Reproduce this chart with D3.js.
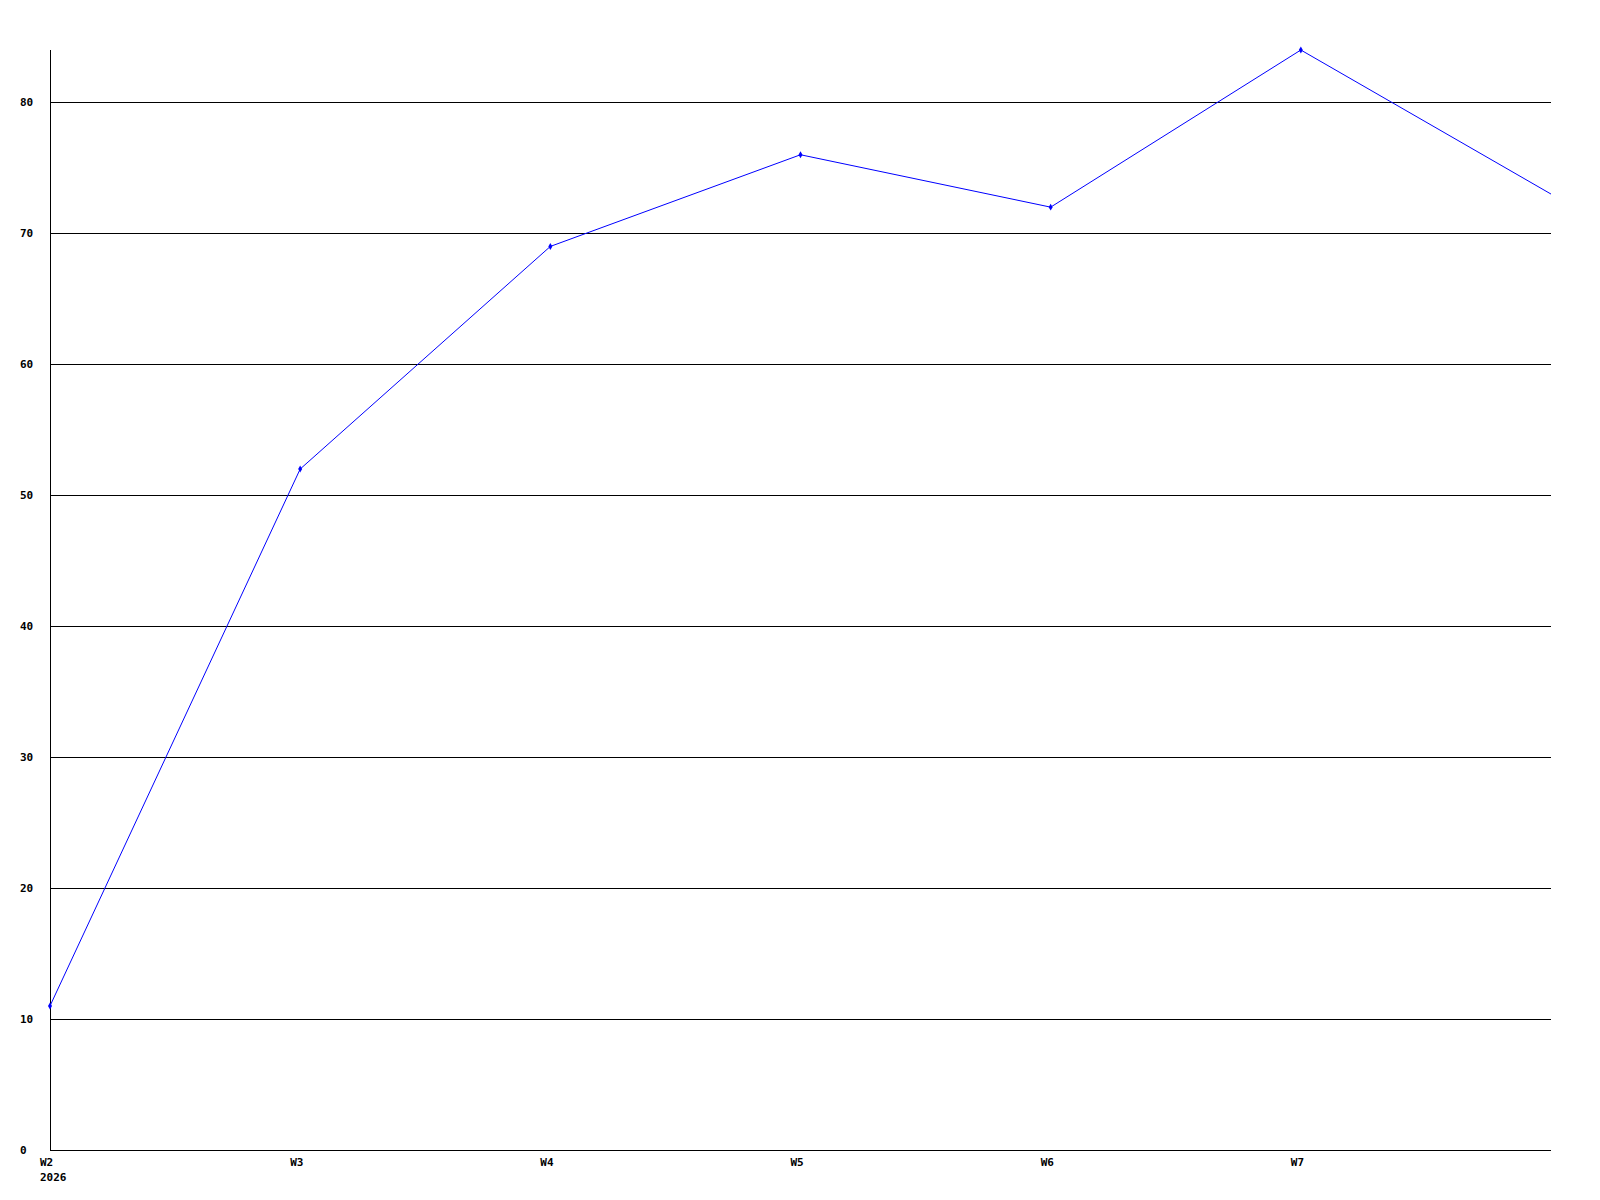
<!DOCTYPE html>
<html><head><meta charset="utf-8">
<script src="https://cdn.jsdelivr.net/npm/d3@7"></script>
<style>html,body{margin:0;padding:0;background:#fff;}svg{display:block;}</style>
</head><body>
<script>
const weeks = ["W2","W3","W4","W5","W6","W7","W8"];
const values = [11,52,69,76,72,84,73];
const yTicks = [0,10,20,30,40,50,60,70,80];
const yearLabel = "2026";

(function(){
const W = 1600, H = 1200;
const mLeft = 50, mRight = 1551, mTop = 50, mBottom = 1150;
const svg = d3.select("body").append("svg").attr("width", W).attr("height", H);

const x = d3.scalePoint().domain(weeks).range([mLeft, mRight]);
const y = d3.scaleLinear().domain([0, 84]).range([mBottom, mTop]);

const font = "'DejaVu Sans Mono', monospace";

// grid lines
svg.append("g").selectAll("line").data(yTicks.filter(t => t > 0)).join("line")
  .attr("x1", mLeft).attr("x2", mRight)
  .attr("y1", d => Math.round(y(d)) + 0.5).attr("y2", d => Math.round(y(d)) + 0.5)
  .attr("stroke", "#000").attr("stroke-width", 1).attr("shape-rendering", "crispEdges");

// axes lines
svg.append("line").attr("x1", mLeft + 0.5).attr("x2", mLeft + 0.5).attr("y1", mTop).attr("y2", mBottom + 1)
  .attr("stroke", "#000").attr("shape-rendering", "crispEdges");
svg.append("line").attr("x1", mLeft).attr("x2", mRight).attr("y1", mBottom + 0.5).attr("y2", mBottom + 0.5)
  .attr("stroke", "#000").attr("shape-rendering", "crispEdges");

// y labels
svg.append("g").selectAll("text").data(yTicks).join("text")
  .attr("x", 20).attr("y", d => Math.round(y(d)) + 4)
  .attr("font-family", font).attr("font-size", 11).attr("font-weight", "bold")
  .attr("fill", "#000").text(d => d);

// x labels
svg.append("g").selectAll("text").data(weeks.slice(0, -1)).join("text")
  .attr("x", d => x(d) - 10).attr("y", mBottom + 16)
  .attr("font-family", font).attr("font-size", 11).attr("font-weight", "bold")
  .attr("fill", "#000").text(d => d);
svg.append("text").attr("x", x(weeks[0]) - 10).attr("y", mBottom + 31)
  .attr("font-family", font).attr("font-size", 11).attr("font-weight", "bold")
  .attr("fill", "#000").text(yearLabel);

// line
const data = weeks.map((w, i) => ({w, v: values[i]}));
svg.append("path").datum(data)
  .attr("d", d3.line().x(d => x(d.w)).y(d => y(d.v)))
  .attr("fill", "none").attr("stroke", "#0000ff").attr("stroke-width", 1);

// markers
svg.append("g").selectAll("path").data(data.slice(0, -1)).join("path")
  .attr("transform", d => `translate(${x(d.w)},${y(d.v)})`)
  .attr("d", d3.symbol(d3.symbolDiamond, 14)())
  .attr("fill", "#0000ff");
})();
</script>
</body></html>
